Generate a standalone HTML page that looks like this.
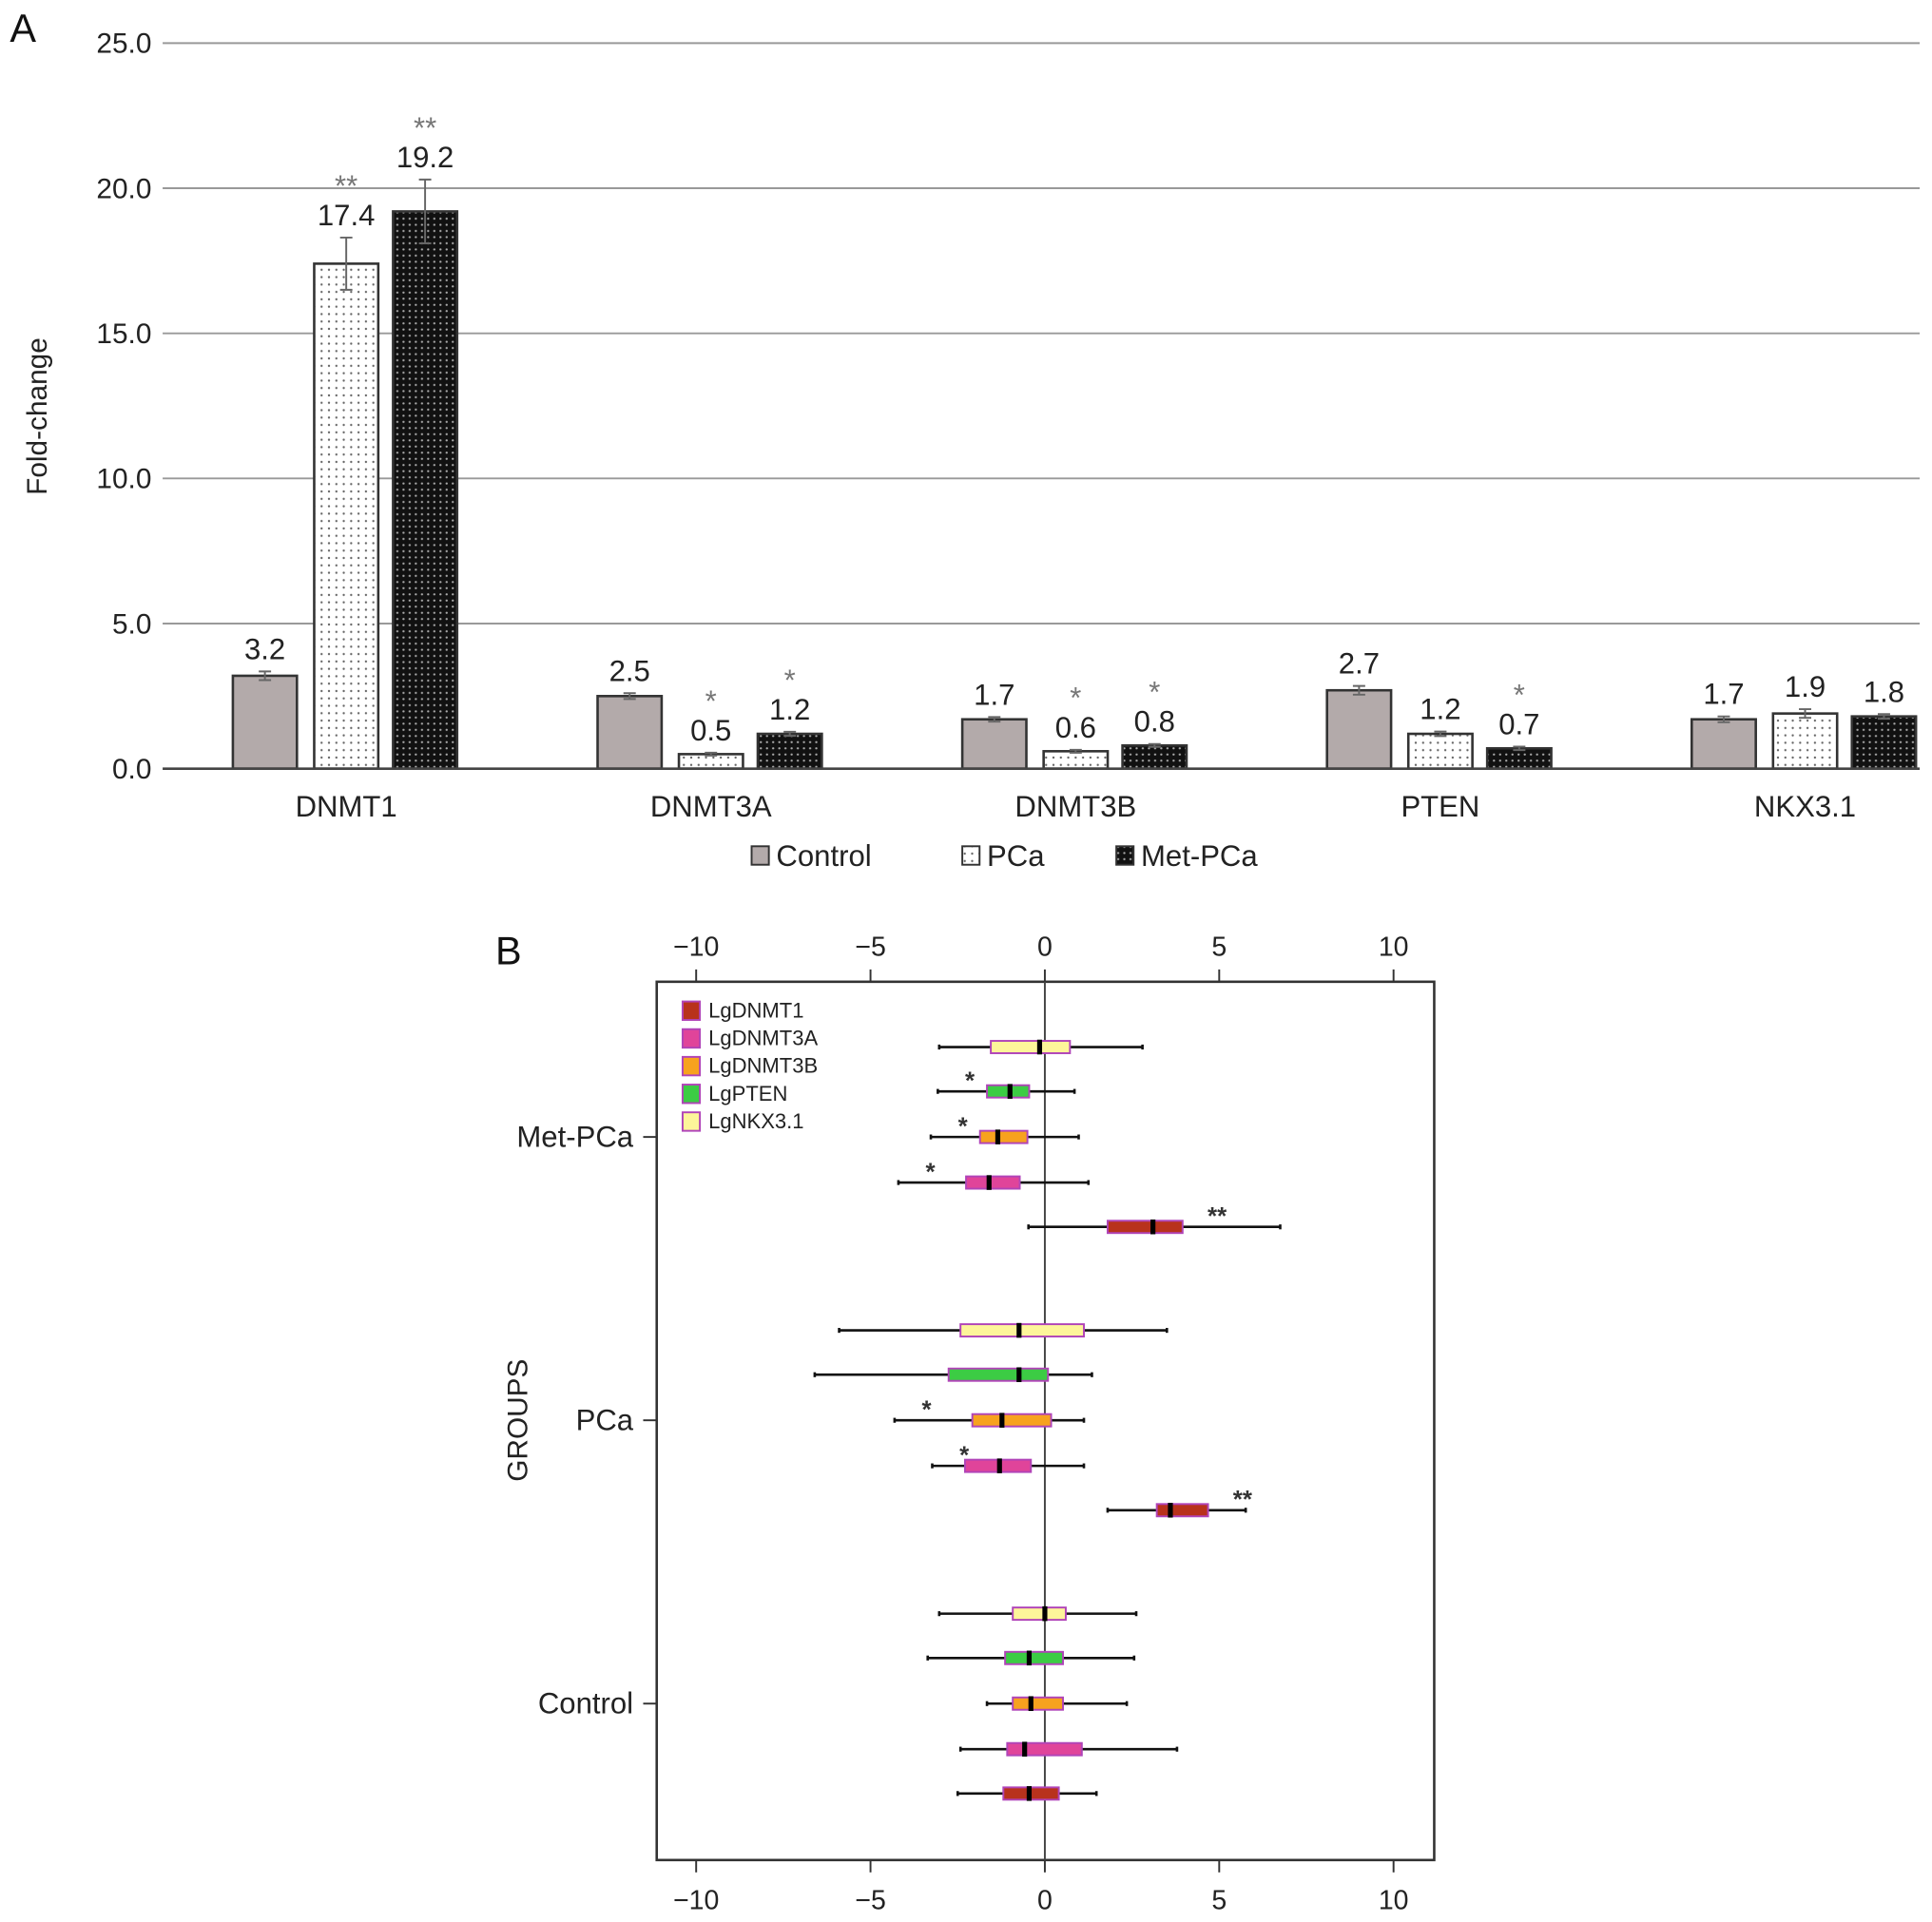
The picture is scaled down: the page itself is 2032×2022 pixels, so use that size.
<!DOCTYPE html>
<html><head><meta charset="utf-8"><style>
html,body{margin:0;padding:0;background:#fff}
svg{display:block;font-family:"Liberation Sans",Arial,sans-serif}
</style></head><body>
<svg id="fig" width="2032" height="2022" viewBox="0 0 1568 1560.3" preserveAspectRatio="none">
<defs>
<pattern id="dotsW" width="6" height="6" patternUnits="userSpaceOnUse"><rect width="6" height="6" fill="#fff"/><circle cx="3" cy="3" r="0.9" fill="#666"/></pattern>
<pattern id="dotsB" width="5" height="5" patternUnits="userSpaceOnUse"><rect width="5" height="5" fill="#111"/><circle cx="2.5" cy="2.5" r="0.9" fill="#aaa"/></pattern>
</defs>
<g id="panelA"></g>
<g id="panelB"></g>
</svg>
<script>
// ---------- Panel A data ----------
const genes = ["DNMT1","DNMT3A","DNMT3B","PTEN","NKX3.1"];
const controlVals = [3.2,2.5,1.7,2.7,1.7];
const pcaVals = [17.4,0.5,0.6,1.2,1.9];
const metVals = [19.2,1.2,0.8,0.7,1.8];
const controlErr = [0.15,0.1,0.08,0.15,0.1];
const pcaErr = [0.9,0.05,0.05,0.08,0.15];
const metErr = [1.1,0.07,0.05,0.06,0.08];
const pcaStars = ["**","*","*","",""];
const metStars = ["**","*","*","*",""];
const yTicksA = [0,5,10,15,20,25];
const yTickLabelsA = ["0.0","5.0","10.0","15.0","20.0","25.0"];

// ---------- Panel B data ----------
const groupsB = ["Met-PCa","PCa","Control"];
const seriesB = ["LgDNMT1","LgDNMT3A","LgDNMT3B","LgPTEN","LgNKX3.1"];
const metStats = [[-0.47,1.8,3.1,3.95,6.75],[-4.2,-2.26,-1.6,-0.72,1.25],[-3.27,-1.86,-1.35,-0.5,0.97],[-3.07,-1.66,-1.0,-0.45,0.85],[-3.03,-1.55,-0.15,0.72,2.8]];
const pcaStats = [[1.8,3.21,3.6,4.68,5.76],[-3.23,-2.29,-1.3,-0.4,1.12],[-4.31,-2.08,-1.23,0.18,1.12],[-6.6,-2.76,-0.74,0.09,1.35],[-5.9,-2.42,-0.74,1.12,3.5]];
const ctrlStats = [[-2.5,-1.19,-0.45,0.4,1.48],[-2.42,-1.08,-0.58,1.06,3.79],[-1.66,-0.92,-0.4,0.52,2.35],[-3.36,-1.14,-0.45,0.52,2.56],[-3.03,-0.92,0,0.6,2.62]];
const metStarsB = ["**","*","*","*",""];
const pcaStarsB = ["**","*","*","",""];
const ctrlStarsB = ["","","","",""];
const xTicksB = [-10,-5,0,5,10];
const xTickLabelsB = ["\u221210","\u22125","0","5","10"];

const NS="http://www.w3.org/2000/svg";
function mk(tag,attrs,parent,text){const e=document.createElementNS(NS,tag);for(const k in attrs)e.setAttribute(k,attrs[k]);if(text!==undefined)e.textContent=text;parent.appendChild(e);return e;}

// ---------- Panel A ----------
const A=document.getElementById('panelA');
const yA=v=>624-v*(589/25);
const xA=i=>281+i*296;
let t=mk('text',{x:8,y:34,'font-size':32,fill:'#111'},A,'A');


yTicksA.forEach((v,i)=>{
  if(v>0){const l=mk('line',{x1:132,x2:1558,y1:yA(v),y2:yA(v),stroke:'#999','stroke-width':1.5},A);
  
  }
  const tl=mk('text',{x:123,y:yA(v)+8,'font-size':23,'text-anchor':'end',fill:'#222'},A,yTickLabelsA[i]);
  
  
});
t=mk('text',{x:38,y:338,'font-size':23,'text-anchor':'middle',fill:'#222',transform:'rotate(-90 38 338)'},A,'Fold-change');


const sets=[[controlVals,controlErr,null,'#b3aaaa',-66],[pcaVals,pcaErr,pcaStars,'url(#dotsW)',0],[metVals,metErr,metStars,'url(#dotsB)',64]];
genes.forEach((g,i)=>{
  sets.forEach((s,j)=>{
    const v=s[0][i],e=s[1][i],cx=xA(i)+s[4],w=52;
    const r=mk('rect',{x:cx-w/2,y:yA(v),width:w,height:yA(0)-yA(v),fill:s[3],stroke:'#333','stroke-width':2},A);
    
    
    const eb=mk('path',{d:`M${cx} ${yA(v+e)}V${yA(v-e)}M${cx-5} ${yA(v+e)}H${cx+5}M${cx-5} ${yA(v-e)}H${cx+5}`,stroke:'#666','stroke-width':1.5,fill:'none'},A);
    
    
    const ly=yA(v+e)-10;
    const vl=mk('text',{x:cx,y:ly,'font-size':24,'text-anchor':'middle',fill:'#222'},A,v.toFixed(1));
    
    
    if(s[2]&&s[2][i]){const st=mk('text',{x:cx,y:ly-24,'font-size':24,'text-anchor':'middle',fill:'#777'},A,s[2][i]);
      
      }
  });
  const cl=mk('text',{x:xA(i),y:663,'font-size':24,'text-anchor':'middle',fill:'#222'},A,g);
  
  
});
t=mk('line',{x1:132,x2:1558,y1:624,y2:624,stroke:'#444','stroke-width':2},A);


[['Control','#b3aaaa',610],['PCa','url(#dotsW)',781],['Met-PCa','url(#dotsB)',906]].forEach(l=>{
  const g=mk('g',{},A);
  
  
  mk('rect',{x:l[2],y:687,width:14,height:15,fill:l[1],stroke:'#333','stroke-width':1.5},g);
  mk('text',{x:l[2]+20,y:703,'font-size':24,fill:'#222'},g,l[0]);
});

// ---------- Panel B ----------
const B=document.getElementById('panelB');
const xB=v=>848+v*28.3;
const groupY=[923,1153,1383];
const rowOff=[73,37,0,-37,-73];
const colors=['#b8321c','#e0449a','#f7a21e','#3ccc44','#fdf59a'];
const allStats=[metStats,pcaStats,ctrlStats];
const allStars=[metStarsB,pcaStarsB,ctrlStarsB];
t=mk('text',{x:402,y:783,'font-size':32,fill:'#111'},B,'B');


t=mk('rect',{x:533,y:797,width:631,height:713,fill:'none',stroke:'#333','stroke-width':2},B);


xTicksB.forEach((v,i)=>{
  [[797,787,776],[1510,1520,1550]].forEach((p,k)=>{
    mk('line',{x1:xB(v),x2:xB(v),y1:p[0],y2:p[1],stroke:'#333','stroke-width':1.5},B);
    const tl=mk('text',{x:xB(v),y:p[2],'font-size':22,'text-anchor':'middle',fill:'#222'},B,xTickLabelsB[i]);
    
    
  });
});
t=mk('line',{x1:xB(0),x2:xB(0),y1:797,y2:1510,stroke:'#444','stroke-width':1.5},B);


groupsB.forEach((g,gi)=>{
  mk('line',{x1:522,x2:533,y1:groupY[gi],y2:groupY[gi],stroke:'#333','stroke-width':1.5},B);
  const gl=mk('text',{x:514,y:groupY[gi]+8,'font-size':24,'text-anchor':'end',fill:'#222'},B,g);
  
  
  seriesB.forEach((s,si)=>{
    const st=allStats[gi][si],y=groupY[gi]+rowOff[si];
    const bx=mk('g',{},B);
    
    
    mk('line',{x1:xB(st[0]),x2:xB(st[4]),y1:y,y2:y,stroke:'#111','stroke-width':2},bx);
    mk('line',{x1:xB(st[0]),x2:xB(st[0]),y1:y-2,y2:y+2,stroke:'#111','stroke-width':2},bx);
    mk('line',{x1:xB(st[4]),x2:xB(st[4]),y1:y-2,y2:y+2,stroke:'#111','stroke-width':2},bx);
    mk('rect',{x:xB(st[1]),y:y-5,width:xB(st[3])-xB(st[1]),height:10,fill:colors[si],stroke:'#b044b8','stroke-width':1.5},bx);
    mk('rect',{x:xB(st[2])-2,y:y-6,width:4,height:12,fill:'#000'},bx);
    const sm=allStars[gi][si];
    if(sm){const sx=sm==='**'?xB(st[3])+28:xB(st[0])+26;
      const stx=mk('text',{x:sx,y:y-2,'font-size':20,'font-weight':'bold','text-anchor':'middle',fill:'#333'},B,sm);
      
      }
  });
});
t=mk('text',{x:428,y:1153,'font-size':23,'text-anchor':'middle',fill:'#222',transform:'rotate(-90 428 1153)'},B,'GROUPS');


seriesB.forEach((s,si)=>{
  const g=mk('g',{},B);
  
  
  const y=813+si*22.5;
  mk('rect',{x:554,y:y,width:14,height:15,fill:colors[si],stroke:'#b044b8','stroke-width':1.5},g);
  mk('text',{x:575,y:y+13,'font-size':17,fill:'#222'},g,s);
});
</script>
</body></html>
